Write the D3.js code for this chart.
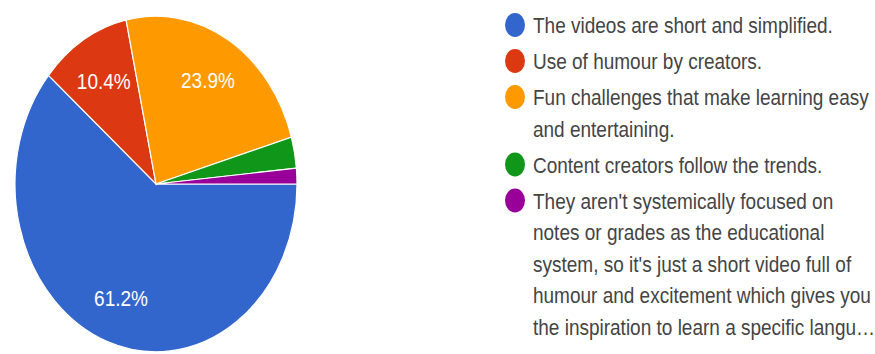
<!DOCTYPE html>
<html>
<head>
<meta charset="utf-8">
<script src="https://cdn.jsdelivr.net/npm/d3@7"></script>
<style>
  html, body { margin: 0; padding: 0; background: #ffffff; }
  svg { display: block; }
  text { font-family: "Liberation Sans", Arial, sans-serif; }
</style>
</head>
<body>
<svg id="chart" width="875" height="354"></svg>
<script>
// Survey answers, in drawing order (clockwise from 3 o'clock)
const categories = [
  "The videos are short and simplified.",
  "Use of humour by creators.",
  "Fun challenges that make learning easy and entertaining.",
  "Content creators follow the trends.",
  "They aren't systemically focused on notes or grades as the educational system, so it's just a short video full of humour and excitement which gives you the inspiration to learn a specific langu…"
];
const shares = [61.2, 10.4, 23.9, 3.0, 1.5];
const colors = ["#3366cc", "#dc3912", "#ff9900", "#109618", "#990099"];

// Wrapped legend lines for each category
const legendLines = [
  ["The videos are short and simplified."],
  ["Use of humour by creators."],
  ["Fun challenges that make learning easy", "and entertaining."],
  ["Content creators follow the trends."],
  ["They aren't systemically focused on",
   "notes or grades as the educational",
   "system, so it's just a short video full of",
   "humour and excitement which gives you",
   "the inspiration to learn a specific langu…"]
];

const yStretch = 1.19;          // the whole chart is drawn taller than wide
const fontSize = 19;
const svg = d3.select("#chart");
const root = svg.append("g").attr("transform", `scale(1,${yStretch})`);

// ---- Pie ----
const radius = 141;
const cx = 156, cy = 184 / yStretch;

const pie = d3.pie()
  .sort(null)
  .value(d => d)
  .startAngle(Math.PI / 2)
  .endAngle(Math.PI / 2 + 2 * Math.PI);

const arc = d3.arc().innerRadius(0).outerRadius(radius);
const labelArc = d3.arc().innerRadius(radius * 0.72).outerRadius(radius * 0.72);

const pieG = root.append("g").attr("transform", `translate(${cx},${cy})`);
const arcs = pie(shares);

pieG.selectAll("path.slice")
  .data(arcs)
  .join("path")
  .attr("class", "slice")
  .attr("d", arc)
  .attr("fill", (d, i) => colors[i])
  .attr("stroke", "#ffffff")
  .attr("stroke-width", 1.2)
  .attr("vector-effect", "non-scaling-stroke");

const fmt = d3.format(".1f");
pieG.selectAll("text.pct")
  .data(arcs.filter(d => d.value >= 5))
  .join("text")
  .attr("class", "pct")
  .attr("x", d => labelArc.centroid(d)[0])
  .attr("y", d => labelArc.centroid(d)[1])
  .attr("text-anchor", "middle")
  .attr("dominant-baseline", "central")
  .attr("fill", "#ffffff")
  .attr("font-size", fontSize)
  .text(d => fmt(d.value) + "%");

// ---- Legend ----
const legendX = 515, textX = 533;
const lineStep = 31.5 / yStretch;
const itemGap = 4.5 / yStretch;
const legendTop = 25 / yStretch;

let yPos = legendTop;
const items = legendLines.map((lines, i) => {
  const item = { i, y: yPos, lines };
  yPos += lines.length * lineStep + itemGap;
  return item;
});

const legend = root.append("g");
const rows = legend.selectAll("g.item")
  .data(items)
  .join("g")
  .attr("class", "item")
  .attr("transform", d => `translate(0,${d.y})`);

rows.append("circle")
  .attr("cx", legendX)
  .attr("cy", 0)
  .attr("r", 10)
  .attr("fill", d => colors[d.i]);

rows.append("text")
  .attr("fill", "#444444")
  .attr("font-size", fontSize)
  .selectAll("tspan")
  .data(d => d.lines)
  .join("tspan")
  .attr("x", textX)
  .attr("y", (d, j) => j * lineStep)
  .attr("dominant-baseline", "central")
  .text(d => d);
</script>
</body>
</html>
